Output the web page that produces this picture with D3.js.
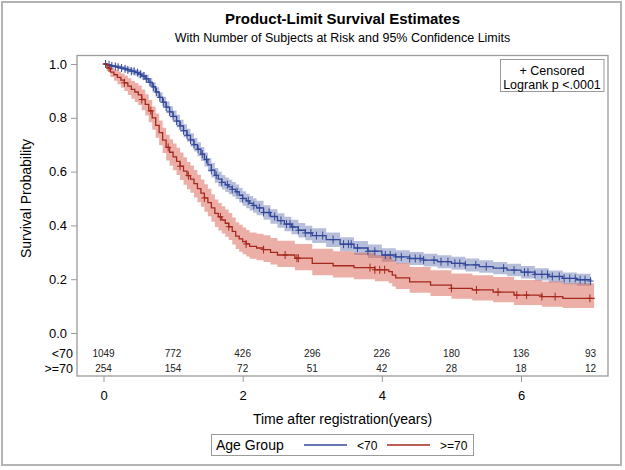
<!DOCTYPE html>
<meta charset="utf-8" />
<style>
    body { margin: 0; background: #fff; }
    text { font-family: "Liberation Sans", Arial, sans-serif; fill: #000; }
</style>
<title>Product-Limit Survival Estimates</title>
<body></body>
<script src="https://d3js.org/d3.v7.min.js"></script>
<script>

    // KM estimates, group <70
    var timeYoung = [0, 0.05, 0.1, 0.15, 0.2, 0.25, 0.3, 0.35, 0.4, 0.45, 0.5, 0.55, 0.6, 0.65, 0.7, 0.75, 0.8, 0.85, 0.9, 0.95,
        1.0, 1.05, 1.1, 1.15, 1.2, 1.25, 1.3, 1.35, 1.4, 1.45, 1.5, 1.55, 1.6, 1.65, 1.7, 1.75, 1.8, 1.85, 1.9, 1.95,
        2.0, 2.05, 2.1, 2.15, 2.2, 2.3, 2.4, 2.5, 2.6, 2.7, 2.8, 2.9, 3.0, 3.2, 3.4, 3.6, 3.8, 4.0, 4.2, 4.4,
        4.6, 4.8, 5.0, 5.2, 5.4, 5.6, 5.8, 6.0, 6.2, 6.4, 6.6, 6.8, 7.0];
    var survYoung = [1.0, 0.997, 0.993, 0.991, 0.988, 0.985, 0.982, 0.978, 0.973, 0.968, 0.962, 0.955, 0.945, 0.932, 0.915, 0.896, 0.876, 0.858, 0.84, 0.822,
        0.805, 0.788, 0.77, 0.752, 0.735, 0.718, 0.70, 0.683, 0.665, 0.645, 0.625, 0.605, 0.586, 0.572, 0.56, 0.551, 0.543, 0.534, 0.525, 0.512,
        0.50, 0.491, 0.482, 0.474, 0.465, 0.448, 0.433, 0.418, 0.405, 0.394, 0.382, 0.372, 0.362, 0.347, 0.33, 0.316, 0.304, 0.29, 0.283, 0.277,
        0.271, 0.265, 0.259, 0.253, 0.247, 0.241, 0.234, 0.226, 0.218, 0.21, 0.203, 0.198, 0.193];
    var lowerYoung = [1.0, 0.994, 0.988, 0.985, 0.981, 0.977, 0.973, 0.968, 0.962, 0.956, 0.949, 0.941, 0.93, 0.916, 0.898, 0.878, 0.857, 0.838, 0.819, 0.801,
        0.783, 0.765, 0.747, 0.728, 0.711, 0.693, 0.675, 0.657, 0.639, 0.619, 0.599, 0.578, 0.559, 0.545, 0.533, 0.524, 0.516, 0.507, 0.498, 0.485,
        0.473, 0.464, 0.455, 0.447, 0.438, 0.421, 0.406, 0.391, 0.378, 0.367, 0.355, 0.345, 0.335, 0.32, 0.304, 0.29, 0.279, 0.265, 0.258, 0.253,
        0.247, 0.241, 0.235, 0.229, 0.224, 0.218, 0.211, 0.203, 0.195, 0.188, 0.181, 0.176, 0.171];
    var upperYoung = [1.0, 1.0, 0.998, 0.997, 0.995, 0.993, 0.991, 0.988, 0.984, 0.98, 0.975, 0.969, 0.96, 0.948, 0.932, 0.914, 0.895, 0.878, 0.861, 0.843,
        0.827, 0.811, 0.793, 0.776, 0.759, 0.743, 0.725, 0.709, 0.691, 0.671, 0.651, 0.632, 0.613, 0.599, 0.587, 0.578, 0.57, 0.561, 0.552, 0.539,
        0.527, 0.518, 0.509, 0.501, 0.492, 0.475, 0.46, 0.445, 0.432, 0.421, 0.409, 0.399, 0.389, 0.374, 0.356, 0.342, 0.329, 0.315, 0.308, 0.301,
        0.295, 0.289, 0.283, 0.277, 0.27, 0.264, 0.257, 0.249, 0.241, 0.232, 0.225, 0.22, 0.215];
    var censorYoung = [0.03, 0.08, 0.12, 0.17, 0.21, 0.26, 0.31, 0.35, 0.4, 0.44, 0.49, 0.53, 0.58, 0.62, 0.67, 0.72, 0.76, 0.81, 0.86, 0.9, 0.95, 1.0, 1.05, 1.1, 1.15, 1.2, 1.25, 1.3, 1.36, 1.42, 1.48, 1.55, 1.62, 1.7, 1.78, 1.85, 1.92, 2.0, 2.08, 2.16, 2.24, 2.3, 2.38, 2.46, 2.55, 2.63, 2.68, 2.72, 2.8, 2.9, 2.98, 3.06, 3.15, 3.3, 3.45, 3.52, 3.56, 3.65, 3.8, 3.9, 4.05, 4.12, 4.2, 4.28, 4.4, 4.48, 4.55, 4.6, 4.75, 4.85, 4.95, 5.05, 5.12, 5.2, 5.35, 5.5, 5.75, 5.9, 6.05, 6.1, 6.2, 6.3, 6.38, 6.45, 6.55, 6.62, 6.7, 6.78, 6.85, 6.92, 7.0];

    // KM estimates, group >=70
    var timeOld = [0, 0.05, 0.1, 0.15, 0.2, 0.25, 0.3, 0.35, 0.4, 0.45, 0.5, 0.55, 0.6, 0.65, 0.7, 0.75, 0.8, 0.85, 0.9, 0.95,
        1.0, 1.05, 1.1, 1.15, 1.2, 1.25, 1.3, 1.35, 1.4, 1.45, 1.5, 1.55, 1.6, 1.65, 1.7, 1.75, 1.8, 1.85, 1.9, 1.95,
        2.0, 2.05, 2.1, 2.2, 2.3, 2.4, 2.5, 2.75, 3.0, 3.3, 3.6, 3.9, 4.1, 4.15, 4.2, 4.4, 4.7, 5.0, 5.3, 5.6,
        5.9, 6.3, 6.6, 7.05];
    var survOld = [1.0, 0.985, 0.97, 0.96, 0.95, 0.94, 0.93, 0.918, 0.906, 0.896, 0.885, 0.868, 0.85, 0.826, 0.80, 0.772, 0.745, 0.717, 0.69, 0.672,
        0.655, 0.638, 0.62, 0.602, 0.585, 0.572, 0.555, 0.537, 0.52, 0.502, 0.485, 0.465, 0.445, 0.432, 0.42, 0.408, 0.395, 0.378, 0.36, 0.35,
        0.34, 0.331, 0.322, 0.316, 0.31, 0.30, 0.29, 0.278, 0.259, 0.25, 0.243, 0.235, 0.228, 0.215, 0.205, 0.19, 0.178, 0.166, 0.16, 0.152,
        0.141, 0.135, 0.129, 0.126];
    var lowerOld = [1.0, 0.973, 0.952, 0.938, 0.925, 0.912, 0.90, 0.885, 0.871, 0.859, 0.847, 0.828, 0.809, 0.783, 0.756, 0.726, 0.698, 0.669, 0.641, 0.622,
        0.605, 0.587, 0.569, 0.551, 0.534, 0.521, 0.504, 0.486, 0.469, 0.451, 0.434, 0.414, 0.394, 0.381, 0.37, 0.358, 0.346, 0.329, 0.312, 0.302,
        0.293, 0.284, 0.276, 0.27, 0.264, 0.255, 0.245, 0.233, 0.215, 0.206, 0.2, 0.192, 0.185, 0.173, 0.164, 0.15, 0.138, 0.127, 0.121, 0.114,
        0.104, 0.098, 0.093, 0.09];
    var upperOld = [1.0, 0.995, 0.986, 0.979, 0.972, 0.965, 0.957, 0.947, 0.937, 0.929, 0.92, 0.905, 0.888, 0.866, 0.842, 0.816, 0.79, 0.763, 0.737, 0.72,
        0.704, 0.689, 0.671, 0.653, 0.636, 0.623, 0.606, 0.588, 0.571, 0.553, 0.536, 0.516, 0.496, 0.483, 0.471, 0.459, 0.446, 0.429, 0.412, 0.402,
        0.392, 0.383, 0.374, 0.369, 0.363, 0.353, 0.343, 0.331, 0.313, 0.304, 0.298, 0.29, 0.284, 0.271, 0.26, 0.245, 0.233, 0.221, 0.215, 0.208,
        0.197, 0.191, 0.185, 0.182];
    var censorOld = [0.08, 0.3, 0.55, 0.68, 0.93, 1.1, 1.22, 1.45, 1.68, 1.8, 2.05, 2.3, 2.61, 2.78, 2.8, 3.83, 3.9, 3.97, 4.04, 5.0, 5.36, 5.67, 5.94, 6.08, 6.3, 6.49, 6.99];

    // subjects at risk
    var riskTimes = [0, 1, 2, 3, 4, 5, 6, 7];
    var riskYoung = [1049, 772, 426, 296, 226, 180, 136, 93];
    var riskOld = [254, 154, 72, 51, 42, 28, 18, 12];

    var xTicks = [0, 2, 4, 6];
    var yTicks = [0, 0.2, 0.4, 0.6, 0.8, 1.0];

    var svgWidth = 625, svgHeight = 470;
    var frame = {left: 77, right: 608, top: 55.5, bottom: 376};

    var svg = d3.select("body").append("svg")
        .attr("width", svgWidth)
        .attr("height", svgHeight);

    // outer border
    svg.append("rect")
        .attr("x", 2).attr("y", 2)
        .attr("width", 619).attr("height", 463)
        .attr("fill", "none")
        .attr("stroke", "#b4b4b4")
        .attr("stroke-width", 2);

    var x = d3.scaleLinear().domain([0, 7]).range([103.5, 590.6]);
    var y = d3.scaleLinear().domain([0, 1]).range([333, 64]);

    // titles
    var cx = (frame.left + frame.right) / 2;
    svg.append("text").attr("x", cx).attr("y", 24)
        .attr("text-anchor", "middle")
        .style("font-size", "15px").style("font-weight", "bold")
        .text("Product-Limit Survival Estimates");
    svg.append("text").attr("x", cx).attr("y", 42)
        .attr("text-anchor", "middle")
        .style("font-size", "12.5px")
        .text("With Number of Subjects at Risk and 95% Confidence Limits");

    var groups = [
        {name: "<70", time: timeYoung, surv: survYoung, lo: lowerYoung, hi: upperYoung, cens: censorYoung,
         line: "#33479a", band: "#6f7eb3"},
        {name: ">=70", time: timeOld, surv: survOld, lo: lowerOld, hi: upperOld, cens: censorOld,
         line: "#a5281c", band: "#d8604f"}
    ];

    var plot = svg.append("g");

    // confidence bands
    groups.forEach(function (g) {
        var pts = g.time.map(function (t, i) { return [t, g.lo[i], g.hi[i]]; });
        plot.append("path")
            .datum(pts)
            .attr("fill", g.band)
            .attr("fill-opacity", 0.5)
            .attr("d", d3.area()
                .curve(d3.curveStepAfter)
                .x(function (d) { return x(d[0]); })
                .y0(function (d) { return y(d[1]); })
                .y1(function (d) { return y(d[2]); }));
    });

    // survival step lines + censor marks
    groups.forEach(function (g) {
        var pts = g.time.map(function (t, i) { return [t, g.surv[i]]; });
        plot.append("path")
            .datum(pts)
            .attr("fill", "none")
            .attr("stroke", g.line)
            .attr("stroke-width", 1.3)
            .attr("d", d3.line()
                .curve(d3.curveStepAfter)
                .x(function (d) { return x(d[0]); })
                .y(function (d) { return y(d[1]); }));

        var survAt = function (t) {
            var i = d3.bisectRight(g.time, t) - 1;
            return g.surv[Math.max(0, i)];
        };
        plot.selectAll(null)
            .data(g.cens)
            .enter().append("path")
            .attr("transform", function (t) { return "translate(" + x(t) + "," + y(survAt(t)) + ")"; })
            .attr("d", "M-3,0H3M0,-4V4")
            .attr("stroke", g.line)
            .attr("stroke-width", 1);
    });

    // plot frame
    svg.append("rect")
        .attr("x", frame.left).attr("y", frame.top)
        .attr("width", frame.right - frame.left)
        .attr("height", frame.bottom - frame.top)
        .attr("fill", "none")
        .attr("stroke", "#9a9a9a")
        .attr("stroke-width", 1.3);

    // y axis
    var yAxis = svg.append("g")
        .attr("transform", "translate(" + frame.left + ",0)")
        .call(d3.axisLeft(y).tickValues(yTicks).tickFormat(d3.format(".1f")).tickSize(6).tickPadding(4));
    yAxis.select(".domain").remove();
    yAxis.selectAll(".tick line").attr("stroke", "#9a9a9a");
    yAxis.selectAll(".tick text").style("font-size", "13px").style("font-family", "Liberation Sans, Arial, sans-serif");

    svg.append("text")
        .attr("transform", "translate(31," + y(0.5) + ") rotate(-90)")
        .attr("text-anchor", "middle")
        .style("font-size", "14px")
        .text("Survival Probability");

    // x axis
    var xAxis = svg.append("g")
        .attr("transform", "translate(0," + frame.bottom + ")")
        .call(d3.axisBottom(x).tickValues(xTicks).tickFormat(d3.format("d")).tickSize(6).tickPadding(9));
    xAxis.select(".domain").remove();
    xAxis.selectAll(".tick line").attr("stroke", "#9a9a9a");
    xAxis.selectAll(".tick text").style("font-size", "13px").style("font-family", "Liberation Sans, Arial, sans-serif");

    svg.append("text")
        .attr("x", cx).attr("y", 424)
        .attr("text-anchor", "middle")
        .style("font-size", "14px")
        .text("Time after registration(years)");

    // at-risk table
    var rows = [{label: "<70", vals: riskYoung, yy: 357.5}, {label: ">=70", vals: riskOld, yy: 372.5}];
    rows.forEach(function (r) {
        svg.append("text")
            .attr("x", 73).attr("y", r.yy)
            .attr("text-anchor", "end")
            .style("font-size", "12.5px")
            .text(r.label);
        svg.selectAll(null)
            .data(r.vals)
            .enter().append("text")
            .attr("x", function (d, i) { return x(riskTimes[i]); })
            .attr("y", r.yy - 0.5)
            .attr("text-anchor", "middle")
            .style("font-size", "10px")
            .style("fill", "#222")
            .text(function (d) { return d; });
    });

    // inset legend (top right)
    svg.append("rect")
        .attr("x", 500.5).attr("y", 59.5)
        .attr("width", 103.5).attr("height", 32)
        .attr("fill", "#fff")
        .attr("stroke", "#9a9a9a");
    svg.append("text").attr("x", 552).attr("y", 74.5)
        .attr("text-anchor", "middle").style("font-size", "12.5px")
        .text("+ Censored");
    svg.append("text").attr("x", 552).attr("y", 88.5)
        .attr("text-anchor", "middle").style("font-size", "12.5px")
        .text("Logrank p <.0001");

    // group legend (bottom)
    var lg = svg.append("g");
    lg.append("rect")
        .attr("x", 211.5).attr("y", 434.5)
        .attr("width", 262).attr("height", 21)
        .attr("fill", "#fff")
        .attr("stroke", "#9a9a9a");
    lg.append("text").attr("x", 216).attr("y", 450)
        .style("font-size", "14px").text("Age Group");
    var legX = [304, 387];
    groups.forEach(function (g, i) {
        lg.append("line")
            .attr("x1", legX[i]).attr("x2", legX[i] + 43)
            .attr("y1", 445).attr("y2", 445)
            .attr("stroke", g.line).attr("stroke-width", 1.3);
        lg.append("text")
            .attr("x", legX[i] + 53).attr("y", 449.5)
            .style("font-size", "12px")
            .text(g.name);
    });

</script>
